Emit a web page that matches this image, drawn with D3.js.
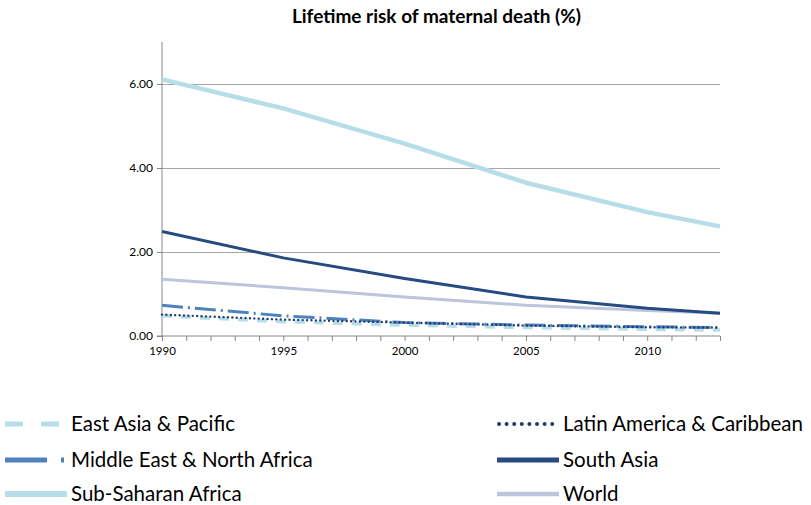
<!DOCTYPE html>
<html><head><meta charset="utf-8">
<script src="https://cdn.jsdelivr.net/npm/d3@7"></script>
<style>body{margin:0;background:#fff}svg{display:block}text{font-family:Lato,"Open Sans",sans-serif;fill:#000}</style>
</head><body>
<script>
const years = [1990, 1995, 2000, 2005, 2010, 2013];
const eastAsia = [0.48, 0.34, 0.26, 0.20, 0.16, 0.14];
const latinAmerica = [0.51, 0.39, 0.32, 0.25, 0.21, 0.20];
const middleEast = [0.73, 0.48, 0.32, 0.26, 0.22, 0.20];
const southAsia = [2.49, 1.86, 1.37, 0.93, 0.66, 0.54];
const subSaharan = [6.11, 5.42, 4.58, 3.65, 2.95, 2.61];
const world = [1.35, 1.15, 0.93, 0.73, 0.61, 0.54];
const yTicks = [0, 2, 4, 6];
const xLabels = [1990, 1995, 2000, 2005, 2010];
const title = "Lifetime risk of maternal death (%)";

const series = [
  {name:"East Asia & Pacific", values:eastAsia, color:"#B7DEE8", width:3.5, dash:"10,9", ldash:"18,18", lw:5, col:0, row:0},
  {name:"Latin America & Caribbean", values:latinAmerica, color:"#1F3E6E", width:2.4, dash:"0,4.4", cap:"round", ldash:"0,7.6", lw:4, col:1, row:0},
  {name:"Middle East & North Africa", values:middleEast, color:"#4F81BD", width:3, dash:"21,5,2,5", ldash:"42,14,3,20", lw:5, col:0, row:1},
  {name:"South Asia", values:southAsia, color:"#254B80", width:3, dash:null, lw:5, col:1, row:1},
  {name:"Sub-Saharan Africa", values:subSaharan, color:"#B7DEE8", width:4.5, dash:null, lw:6, col:0, row:2},
  {name:"World", values:world, color:"#BCC5DD", width:3, dash:null, lw:4.5, col:1, row:2}
];

const W = 811, H = 505;
const svg = d3.select("body").append("svg").attr("width", W).attr("height", H);
const x = d3.scaleLinear().domain([1990, 2013]).range([162, 720]);
const y = d3.scaleLinear().domain([0, 7]).range([336, 42]);

svg.append("text").attr("x", 436.5).attr("y", 23).attr("text-anchor", "middle")
  .style("font-weight", "bold").style("font-size", "19px").text(title);

// gridlines
svg.append("g").selectAll("line").data(yTicks.filter(d => d > 0)).join("line")
  .attr("x1", x(1990)).attr("x2", x(2013)).attr("y1", d => y(d)).attr("y2", d => y(d))
  .attr("stroke", "#A6A6A6").attr("stroke-width", 1).attr("shape-rendering", "crispEdges");

// y axis
const yAxis = d3.axisLeft(y).tickValues(yTicks).tickFormat(d3.format(".2f")).tickSize(5).tickPadding(4);
const gy = svg.append("g").attr("transform", `translate(${x(1990)},0)`).call(yAxis);
gy.select(".domain").attr("stroke", "#868686").attr("d", `M-5,${y(0)}H0V${y(7)}`);
gy.selectAll(".tick line").attr("stroke", "#868686");
gy.selectAll(".tick text").style("font-size", "12px").style("font-family", "Lato,sans-serif").attr("fill", "#000");

// x axis
const xAxis = d3.axisBottom(x).tickValues(d3.range(1990, 2014)).tickSize(5).tickPadding(6)
  .tickFormat(d => xLabels.includes(d) ? d : "");
const gx = svg.append("g").attr("transform", `translate(0,${y(0)})`).call(xAxis);
gx.select(".domain").attr("stroke", "#868686").attr("d", `M${x(1990)},0H${x(2013)}`);
gx.selectAll(".tick line").attr("stroke", "#868686");
gx.selectAll(".tick text").style("font-size", "11.5px").style("font-family", "Lato,sans-serif").attr("fill", "#000");

const line = d3.line().x((d, i) => x(years[i])).y(d => y(d));
const order = ["Sub-Saharan Africa","World","South Asia","East Asia & Pacific","Middle East & North Africa","Latin America & Caribbean"];
order.forEach(n => {
  const s = series.find(t => t.name === n);
  svg.append("path").datum(s.values).attr("d", line).attr("fill", "none")
    .attr("stroke", s.color).attr("stroke-width", s.width)
    .attr("stroke-dasharray", s.dash).attr("stroke-linecap", s.cap || "butt")
    .attr("stroke-linejoin", "round");
});

// legend
const colX = [5, 497], rowY = [424, 460, 494];
series.forEach(s => {
  const lx = colX[s.col], ly = rowY[s.row];
  svg.append("line").attr("x1", lx + (s.cap ? 2 : 0)).attr("x2", lx + 62).attr("y1", ly).attr("y2", ly)
    .attr("stroke", s.color).attr("stroke-width", s.lw)
    .attr("stroke-dasharray", s.ldash || null)
    .attr("stroke-linecap", s.cap || "butt");
  svg.append("text").attr("x", lx + 66).attr("y", ly + 7).style("font-size", "20.5px").text(s.name);
});
</script>
</body></html>
